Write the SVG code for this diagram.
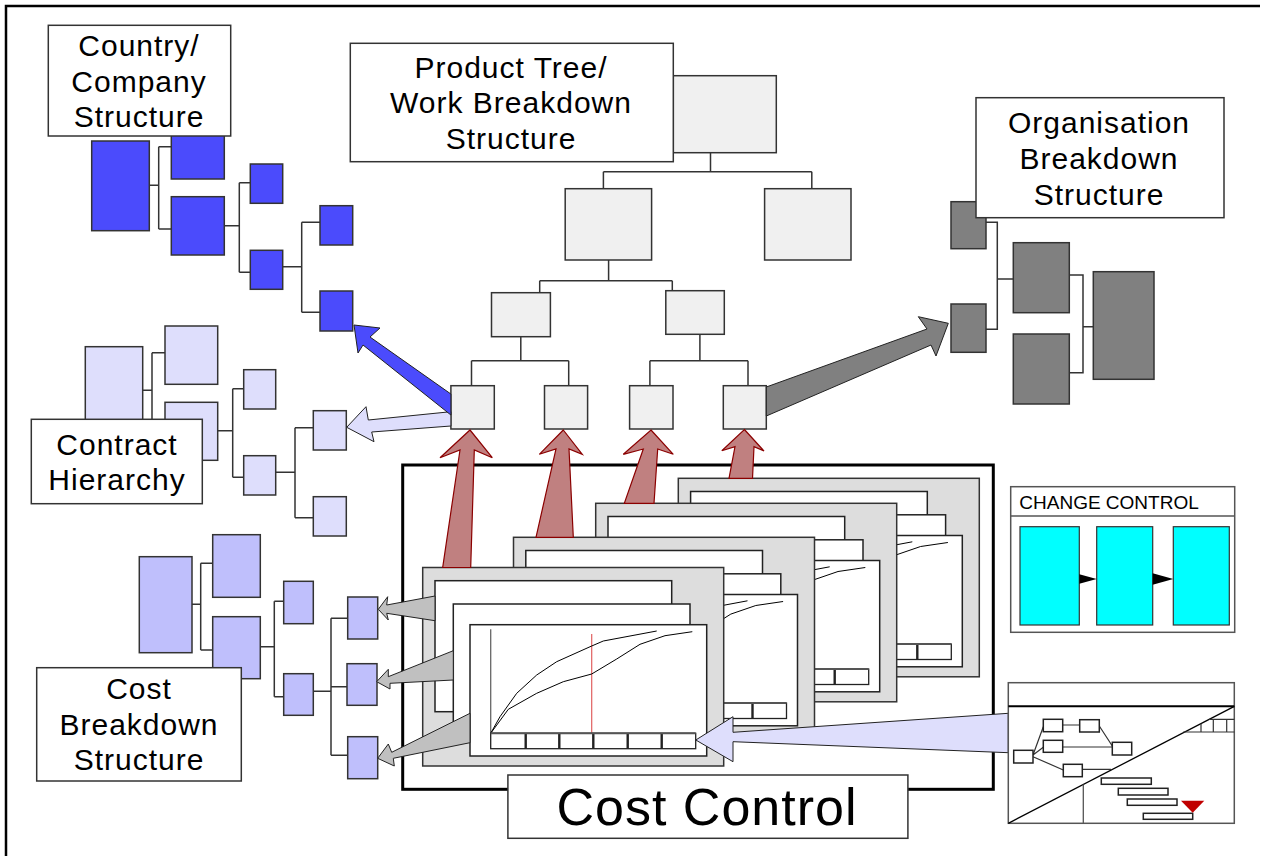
<svg xmlns="http://www.w3.org/2000/svg" xmlns:xlink="http://www.w3.org/1999/xlink" width="1262" height="856" viewBox="0 0 1262 856">
  <style>
    .ln { fill: none; stroke: #333; stroke-width: 1.5; }
    .bx { stroke: #333; stroke-width: 1.5; }
    .blue { fill: #4b4bfc; }
    .lilac { fill: #dedefc; }
    .violet { fill: #bfbffc; }
    .pale { fill: #f0f0f0; }
    .dark { fill: #808080; }
    .label { fill: #fff; stroke: #333; stroke-width: 1.5; }
    .lt { font-family: "Liberation Sans", Arial, sans-serif; font-size: 30px; letter-spacing: 1px; text-anchor: middle; fill: #000; }
    .frame { fill: #dddddd; stroke: #333; stroke-width: 1.5; }
    .sheet { fill: #fff; stroke: #222; stroke-width: 1.5; }
    .curve { fill: none; stroke: #000; stroke-width: 1; }
    .cell { fill: #fff; stroke: #222; stroke-width: 1.3; }
    .red { fill: #c08080; stroke: #8b0000; stroke-width: 1.2; stroke-linejoin: miter; }
    .arr { stroke: #222; stroke-width: 1; stroke-linejoin: miter; }
    .gbox { fill: #fff; stroke: #222; stroke-width: 1.5; }
  </style>
  <defs>
    <!-- one document: grey frame with three stacked sheets, the front one holding the S-curve chart -->
    <g id="doc">
      <rect class="frame" x="0" y="0" width="301" height="198.5"/>
      <rect class="sheet" x="12.3" y="13.2" width="236.7" height="131"/>
      <rect class="sheet" x="30.6" y="36.5" width="236.7" height="131"/>
      <g transform="translate(47.3,57.2)">
        <rect class="sheet" x="0" y="0" width="236.7" height="131.3"/>
        <line x1="20.7" y1="4.6" x2="20.7" y2="108.6" stroke="#666" stroke-width="1.3"/>
        <line x1="121.7" y1="9.3" x2="121.7" y2="108.6" stroke="#e06060" stroke-width="1.2"/>
        <polyline class="curve" points="20.7,108.6 30,92 46.7,68.6 66.7,50.3 86.7,37 121.7,21.3 133.3,16.3 186.7,6.3"/>
        <polyline class="curve" points="20.7,108.6 38.3,84.6 66.7,68.6 93.3,57 121.7,49.3 146.7,34.3 170,19.6 195,11 222.3,7"/>
        <rect class="cell" x="20.7" y="108.6" width="205" height="15.4"/>
        <g stroke="#222" stroke-width="2.4">
          <line x1="55.7" y1="108.6" x2="55.7" y2="124"/>
          <line x1="89.3" y1="108.6" x2="89.3" y2="124"/>
          <line x1="123.3" y1="108.6" x2="123.3" y2="124"/>
          <line x1="157.7" y1="108.6" x2="157.7" y2="124"/>
          <line x1="191.7" y1="108.6" x2="191.7" y2="124"/>
        </g>
        <line x1="20.7" y1="108.6" x2="225.7" y2="108.6" stroke="#555" stroke-width="2"/>
      </g>
    </g>
  </defs>

  <rect x="0" y="0" width="1262" height="856" fill="#fff"/>
  <path d="M6,858 V6 H1260" fill="none" stroke="#000" stroke-width="2.5"/>

  <!-- tree connectors -->
  <g id="connectors" class="ln">
    <path d="M149.3,185.3 H158.7 M158.7,146.7 V229 M158.7,146.7 H171.3 M158.7,229 H171.3"/>
    <path d="M224.3,225.7 H239.3 M239.3,182.7 V272.3 M239.3,182.7 H250.3 M239.3,272.3 H250.3"/>
    <path d="M282.7,266.7 H301.7 M301.7,222.3 V312.3 M301.7,222.3 H320 M301.7,312.3 H320"/>

    <path d="M142.7,390.3 H152 M152,352.7 V429 M152,352.7 H165 M152,429 H165"/>
    <path d="M217.7,430.7 H232.7 M232.7,388.7 V477.3 M232.7,388.7 H243.7 M232.7,477.3 H243.7"/>
    <path d="M275.7,472.3 H295 M295,427.7 V517.7 M295,427.7 H313.3 M295,517.7 H313.3"/>

    <path d="M192,604.3 H200.7 M200.7,563.3 V650 M200.7,563.3 H212.7 M200.7,650 H212.7"/>
    <path d="M260.3,646.7 H274.3 M274.3,601.3 V696.7 M274.3,601.3 H283.7 M274.3,696.7 H283.7"/>
    <path d="M313.3,691.3 H331 M331,618.3 V755.3 M331,618.3 H347.7 M331,686.7 H347 M331,755.3 H347.7"/>

    <path d="M710.5,152.7 V171.7 M603.4,171.7 H811.8 M603.4,171.7 V188.7 M811.8,171.7 V188.7"/>
    <path d="M608.6,260 V280.7 M539.7,280.7 H672.3 M539.7,280.7 V295.7 M672.3,280.7 V295.7"/>
    <path d="M520.8,336.7 V360.7 M471.5,360.7 H568.7 M471.5,360.7 V385.7 M568.7,360.7 V385.7"/>
    <path d="M699.9,334.3 V360.7 M649.9,360.7 H748 M649.9,360.7 V385.7 M748,360.7 V385.7"/>

    <path d="M986,222.3 H997.3 V329.3 H986 M997.3,279 H1013.3"/>
    <path d="M1069.3,275 H1083 V372.7 H1069.3 M1083,326.7 H1093.3"/>
  </g>

  <!-- country / company structure -->
  <g id="country-structure" class="bx blue">
    <rect id="cc-root" x="91.7" y="141" width="57.6" height="89.7"/>
    <rect id="cc-a" x="171.3" y="121" width="53" height="58"/>
    <rect id="cc-b" x="171.3" y="196.7" width="53" height="58.3"/>
    <rect id="cc-c" x="250.3" y="164" width="32.4" height="39.3"/>
    <rect id="cc-d" x="250.3" y="250.3" width="32.4" height="39"/>
    <rect id="cc-e" x="320" y="205.7" width="32.7" height="39.3"/>
    <rect id="cc-f" x="320" y="291" width="32.7" height="40"/>
  </g>

  <!-- contract hierarchy -->
  <g id="contract-hierarchy" class="bx lilac">
    <rect id="ch-root" x="85.3" y="346.7" width="57.4" height="85"/>
    <rect id="ch-a" x="165" y="326" width="52.7" height="58.3"/>
    <rect id="ch-b" x="165" y="402.3" width="52.7" height="58"/>
    <rect id="ch-c" x="243.7" y="369.7" width="32" height="39.3"/>
    <rect id="ch-d" x="243.7" y="455.7" width="32" height="39.3"/>
    <rect id="ch-e" x="313.3" y="410.7" width="33" height="39.3"/>
    <rect id="ch-f" x="313.3" y="496.7" width="33" height="39.3"/>
  </g>

  <!-- cost breakdown structure -->
  <g id="cost-breakdown" class="bx violet">
    <rect id="cb-root" x="139.3" y="556.7" width="52.7" height="96"/>
    <rect id="cb-a" x="212.7" y="534.7" width="47.6" height="62.6"/>
    <rect id="cb-b" x="212.7" y="616.7" width="47.6" height="62"/>
    <rect id="cb-c" x="283.7" y="581.3" width="29.6" height="42.4"/>
    <rect id="cb-d" x="283.7" y="673.7" width="29.6" height="41.6"/>
    <rect id="cb-e" x="347.7" y="597" width="30" height="42"/>
    <rect id="cb-f" x="347" y="663.7" width="30" height="41.6"/>
    <rect id="cb-g" x="347.7" y="736.7" width="30" height="42"/>
  </g>

  <!-- organisation breakdown structure -->
  <g id="organisation-breakdown" class="bx dark">
    <rect id="ob-a" x="951" y="201.7" width="35" height="47"/>
    <rect id="ob-b" x="951" y="304" width="35" height="48.3"/>
    <rect id="ob-c" x="1013.3" y="242.7" width="56" height="70"/>
    <rect id="ob-d" x="1013.3" y="334" width="56" height="70"/>
    <rect id="ob-e" x="1093.3" y="271.7" width="60.7" height="107.6"/>
  </g>

  <!-- product tree / WBS -->
  <g id="product-tree" class="bx pale">
    <rect id="pt-root" x="673.3" y="75.7" width="103" height="77"/>
    <rect id="pt-l2a" x="565.2" y="188.7" width="86.4" height="71.3"/>
    <rect id="pt-l2b" x="764.6" y="188.7" width="86.4" height="71.3"/>
    <rect id="pt-l3a" x="491.5" y="292.7" width="58.9" height="44"/>
    <rect id="pt-l3b" x="665.8" y="290.7" width="58.5" height="43.6"/>
    <rect id="pt-l4a" x="450.9" y="385.7" width="43.4" height="43.3"/>
    <rect id="pt-l4b" x="544.5" y="385.7" width="43.1" height="43.3"/>
    <rect id="pt-l4c" x="629.6" y="385.7" width="43.4" height="43.3"/>
    <rect id="pt-l4d" x="723.3" y="385.7" width="43" height="43.3"/>
  </g>

  <!-- title labels -->
  <g id="label-country">
    <rect class="label" x="48.3" y="25.3" width="182.4" height="110.7"/>
    <text class="lt" x="139" y="56">Country/</text>
    <text class="lt" x="139" y="91.5">Company</text>
    <text class="lt" x="139" y="127">Structure</text>
  </g>
  <g id="label-product-tree">
    <rect class="label" x="350.3" y="43.3" width="323" height="118.4"/>
    <text class="lt" x="511" y="77.7">Product Tree/</text>
    <text class="lt" x="511" y="113.3">Work Breakdown</text>
    <text class="lt" x="511" y="149.3">Structure</text>
  </g>
  <g id="label-organisation">
    <rect class="label" x="976" y="97.7" width="248" height="120"/>
    <text class="lt" x="1099" y="133.3">Organisation</text>
    <text class="lt" x="1099" y="169.3">Breakdown</text>
    <text class="lt" x="1099" y="205">Structure</text>
  </g>
  <g id="label-contract">
    <rect class="label" x="31.3" y="419.3" width="171" height="84.4"/>
    <text class="lt" x="117" y="454.5">Contract</text>
    <text class="lt" x="117" y="490">Hierarchy</text>
  </g>
  <g id="label-cost-breakdown">
    <rect class="label" x="36.7" y="667.7" width="204.6" height="113.3"/>
    <text class="lt" x="139" y="699.3">Cost</text>
    <text class="lt" x="139" y="734.5">Breakdown</text>
    <text class="lt" x="139" y="769.5">Structure</text>
  </g>

  <!-- cost control: frame and the stack of cost reports -->
  <g id="cost-control">
    <rect x="402.7" y="465" width="590.6" height="324.3" fill="none" stroke="#000" stroke-width="3"/>
    <use xlink:href="#doc" href="#doc" transform="translate(678.3,478.3)"/>
    <use xlink:href="#doc" href="#doc" transform="translate(595.7,503.3)"/>
    <use xlink:href="#doc" href="#doc" transform="translate(513.5,537.3)"/>
    <use xlink:href="#doc" href="#doc" transform="translate(422.7,567.5)"/>
  </g>

  <!-- block arrows between the structures -->
  <g id="flows">
    <polygon class="red" points="470,430 492.3,457.7 474.3,450 470.7,567.5 442.7,567.5 460,450 440,457.7"/>
    <polygon class="red" points="563.3,430 582.3,454.3 569,449 573.3,537.3 536,537.3 556,449 539.3,454.3"/>
    <polygon class="red" points="651,430 673.3,454.3 657.7,449 654,503.3 624.3,503.3 643.3,449 623.3,454.3"/>
    <polygon class="red" points="744.4,429.5 764,451 754,446.7 752.5,478.3 729,478.3 735,446.7 721.8,450.7"/>

    <polygon class="arr lilac" points="346.7,427.3 366,406.7 368.3,420 450.9,411.7 450.9,426 371.7,432 374,441.7"/>
    <polygon class="arr blue" points="354,325 380,328 370,337 450.9,394 450.9,415 363,345 358,353"/>
    <polygon class="arr dark" points="766.3,387 927,329 918.3,316.7 948.3,323.3 936,356 931,345 766.3,416"/>

    <polygon class="arr" fill="#c0c0c0" points="378.3,609.3 387.7,596.7 386.7,605 435,596 435,620.7 386.7,613.3 388.3,620"/>
    <polygon class="arr" fill="#c0c0c0" points="376.7,681.7 388.3,669.3 388.3,676.7 453.3,650.7 453.3,680 390,683.3 390,689"/>
    <polygon class="arr" fill="#c0c0c0" points="377.7,758.3 388.3,744 391.7,752.3 470,713.3 470,742.7 393.3,758.3 394.3,766"/>

    <polygon class="arr lilac" points="695.8,740 733,716.7 733,732.3 1008.3,713.3 1008.3,752.7 733,741.7 733,761.7"/>
  </g>

  <g id="label-cost-control">
    <rect class="label" x="507.9" y="775" width="400" height="63.3"/>
    <text x="707" y="825" font-family="Liberation Sans, Arial, sans-serif" font-size="52" letter-spacing="1" text-anchor="middle">Cost Control</text>
  </g>

  <!-- change control -->
  <g id="change-control">
    <rect x="1010.7" y="486.7" width="224" height="145.6" fill="#fff" stroke="#555" stroke-width="1.5"/>
    <line x1="1010.7" y1="516" x2="1234.7" y2="516" stroke="#555" stroke-width="1.5"/>
    <text x="1019.3" y="509.3" font-family="Liberation Sans, Arial, sans-serif" font-size="19">CHANGE CONTROL</text>
    <g fill="#00ffff" stroke="#333" stroke-width="1.2">
      <rect x="1020" y="526.7" width="59.3" height="98.3"/>
      <rect x="1096.7" y="526.7" width="56" height="98.3"/>
      <rect x="1173.3" y="526.7" width="56" height="98.3"/>
    </g>
    <polygon points="1079.3,574.3 1096.7,579 1079.3,583.7" fill="#000"/>
    <polygon points="1152.7,573.3 1173.3,579 1152.7,584.7" fill="#000"/>
  </g>

  <!-- schedule: network and bar chart -->
  <g id="schedule">
    <rect x="1008.3" y="682.7" width="226" height="140.6" fill="#fff" stroke="#555" stroke-width="1.5"/>
    <line x1="1008.3" y1="706.3" x2="1234.3" y2="706.3" stroke="#000" stroke-width="2"/>
    <line x1="1008.3" y1="823.3" x2="1234.3" y2="706.3" stroke="#000" stroke-width="1.3"/>
    <line x1="1083.3" y1="784.5" x2="1083.3" y2="823.3" stroke="#555" stroke-width="1.3"/>
    <path d="M1183.3,732 H1234.3 M1209,719.3 H1234.3 M1201,723.5 V732 M1213.3,719.3 V732 M1226.7,719.3 V732" fill="none" stroke="#333" stroke-width="1.2"/>
    <path d="M1033,755 L1043.3,726.7 M1033,755 L1043.3,747.3 M1033,756.7 L1063.3,770 M1062.7,725 H1079.7 M1099.3,726 L1112.3,746 M1062.7,747 H1112.3 M1082.3,769.3 H1111" fill="none" stroke="#333" stroke-width="1.2"/>
    <rect class="gbox" x="1013.7" y="750.3" width="19.3" height="12.7"/>
    <rect class="gbox" x="1043.3" y="719.3" width="19.4" height="12.4"/>
    <rect class="gbox" x="1079.7" y="719.7" width="19.6" height="12.3"/>
    <rect class="gbox" x="1043.3" y="740.3" width="19.4" height="12"/>
    <rect class="gbox" x="1112.3" y="742.3" width="19.4" height="12.7"/>
    <rect class="gbox" x="1063.3" y="764.3" width="19" height="12.4"/>
    <rect class="gbox" x="1101.3" y="778" width="50" height="6.3"/>
    <rect class="gbox" x="1118.3" y="788.3" width="49.7" height="6.7"/>
    <rect class="gbox" x="1127.3" y="799" width="49.7" height="6.3"/>
    <rect class="gbox" x="1143.3" y="813.3" width="49.4" height="6"/>
    <polygon points="1181,800.7 1204.3,800.7 1192.7,812.7" fill="#c00000"/>
  </g>
</svg>
